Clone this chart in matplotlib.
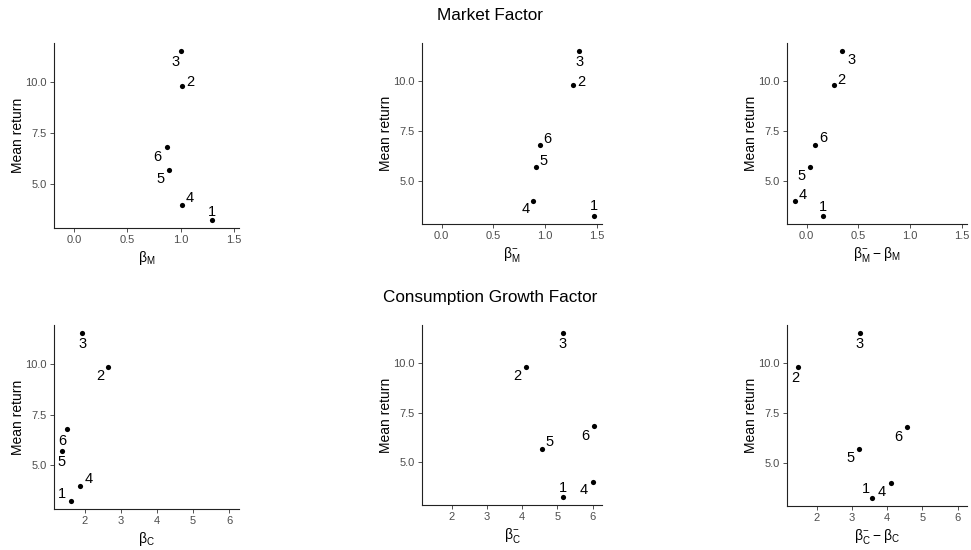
import matplotlib
matplotlib.use('Agg')
import matplotlib.pyplot as plt

plt.rcParams['font.family'] = ['Liberation Sans', 'DejaVu Sans']
plt.rcParams['mathtext.default'] = 'regular'

# portfolio labels and mean returns
portfolios = ['1', '2', '3', '4', '5', '6']
mean_return = [3.27, 9.82, 11.50, 4.00, 5.69, 6.81]

# market factor betas
beta_m = [1.30, 1.01, 1.00, 1.01, 0.89, 0.87]
beta_m_down = [1.47, 1.27, 1.33, 0.88, 0.91, 0.95]
beta_m_diff = [0.16, 0.26, 0.34, -0.11, 0.03, 0.08]

# consumption growth betas
beta_c = [1.63, 2.64, 1.93, 1.88, 1.38, 1.51]
beta_c_down = [5.17, 4.10, 5.16, 6.01, 4.55, 6.04]
beta_c_diff = [3.58, 1.46, 3.22, 4.11, 3.19, 4.56]

W, H = 971, 550

# label offsets (px, y down) per panel, mimicking repelled labels
offsets = [
    [(0, -8), (9, -4), (-5, 11), (8, -7), (-8, 9), (-9, 10)],
    [(0, -10), (8, -3), (0, 11), (-7, 8), (8, -6), (7, -6)],
    [(0, -9), (8, -5), (10, 9), (7, -6), (-8, 9), (8, -7)],
    [(-9, -7), (-8, 9), (0, 11), (8, -7), (-1, 11), (-5, 12)],
    [(0, -9), (-8, 9), (0, 11), (-9, 8), (8, -7), (-9, 10)],
    [(-6, -9), (-3, 11), (0, 11), (-9, 9), (-8, 9), (-9, 10)],
]

panels = [
    (beta_m, r'$β_{M}$', (54, 43, 239, 228)),
    (beta_m_down, r'$β^{-}_{M}$', (422, 43, 602, 224)),
    (beta_m_diff, r'$β^{-}_{M} - β_{M}$', (787, 43, 967, 224)),
    (beta_c, r'$β_{C}$', (54, 325, 239, 509)),
    (beta_c_down, r'$β^{-}_{C}$', (422, 325, 602, 505)),
    (beta_c_diff, r'$β^{-}_{C} - β_{C}$', (787, 325, 967, 506)),
]

fig = plt.figure(figsize=(W / 100, H / 100), dpi=100)

for i, (xs, xlabel, (x0, y0, x1, y1)) in enumerate(panels):
    ax = fig.add_axes([x0 / W, 1 - y1 / H, (x1 - x0) / W, (y1 - y0) / H])
    ax.scatter(xs, mean_return, s=14, color='black', zorder=3, linewidths=0)
    for j, lab in enumerate(portfolios):
        dx, dy = offsets[i][j]
        ax.annotate(lab, (xs[j], mean_return[j]), xytext=(dx * 0.72, -dy * 0.72),
                    textcoords='offset points', ha='center', va='center',
                    fontsize=10.5, color='black')
    if i < 3:
        ax.set_xlim(-0.19, 1.55)
        ax.set_xticks([0.0, 0.5, 1.0, 1.5])
        ax.set_xticklabels(['0.0', '0.5', '1.0', '1.5'])
    else:
        ax.set_xlim(1.15, 6.27)
        ax.set_xticks([2, 3, 4, 5, 6])
    ax.set_ylim(2.86, 11.91)
    ax.set_yticks([5.0, 7.5, 10.0])
    ax.set_yticklabels(['5.0', '7.5', '10.0'])
    for s in ['top', 'right']:
        ax.spines[s].set_visible(False)
    for s in ['left', 'bottom']:
        ax.spines[s].set_linewidth(0.8)
        ax.spines[s].set_color('#222222')
    ax.tick_params(length=3, width=0.6, color='#333333', labelcolor='#4D4D4D',
                   labelsize=8, pad=2)
    ax.set_xlabel(xlabel, fontsize=10, labelpad=3)
    ax.set_ylabel('Mean return', fontsize=10, labelpad=0.5)

fig.text(490 / W, 1 - 16 / H, 'Market Factor', ha='center', va='center', fontsize=12.3)
fig.text(490 / W, 1 - 297.5 / H, 'Consumption Growth Factor', ha='center', va='center',
         fontsize=12.3)

fig.savefig('out.png', dpi=100)
